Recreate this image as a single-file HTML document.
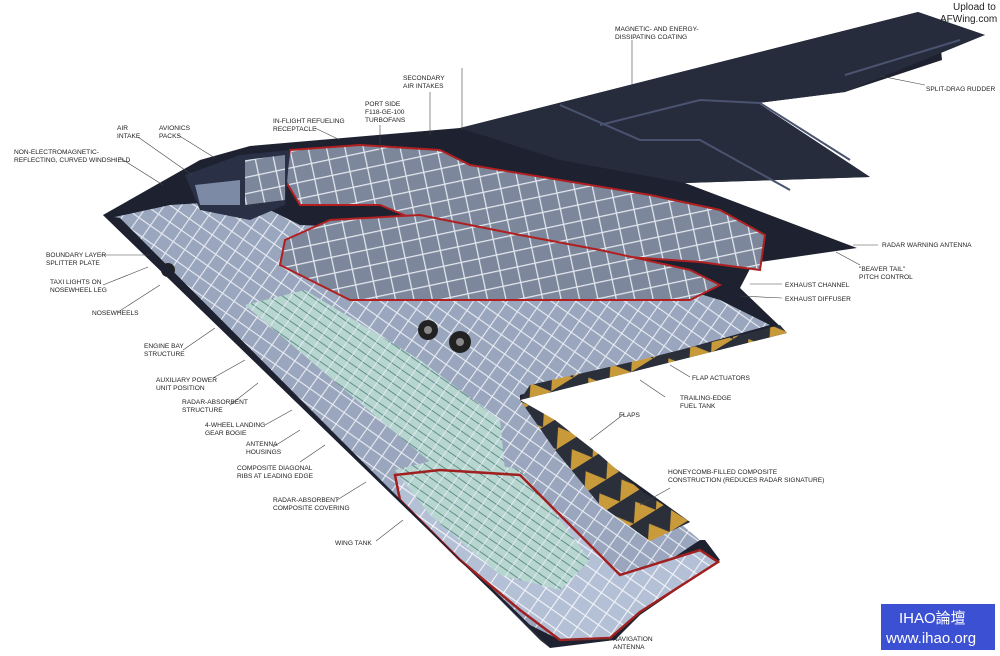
<!DOCTYPE html>
<html><head><meta charset="utf-8"><style>
html,body{margin:0;padding:0;background:#fff;}
svg{display:block}
text{font-family:"Liberation Sans",sans-serif;font-size:6.6px;fill:#222;}
.ln{stroke:#444;stroke-width:0.6;fill:none}
</style></head><body>
<svg width="1000" height="656" viewBox="0 0 1000 656" xmlns="http://www.w3.org/2000/svg">
<defs>
<pattern id="grid" width="14" height="14" patternUnits="userSpaceOnUse" patternTransform="rotate(35)">
<rect width="14" height="14" fill="#9aa6be"/><path d="M0 0H14M0 0V14" stroke="#e8ecf2" stroke-width="2.2"/>
</pattern>
<pattern id="grid2" width="18" height="16" patternUnits="userSpaceOnUse" patternTransform="rotate(-12)">
<rect width="18" height="16" fill="#7c879c"/><path d="M0 0H18M0 0V16" stroke="#e4e8ee" stroke-width="2.5"/>
</pattern>
<pattern id="grid3" width="16" height="14" patternUnits="userSpaceOnUse" patternTransform="rotate(35)">
<rect width="16" height="14" fill="#b4c0d6"/><path d="M0 0H16M0 0V14" stroke="#f2f4f8" stroke-width="2.2"/>
</pattern>
<pattern id="teal" width="12" height="8" patternUnits="userSpaceOnUse" patternTransform="rotate(35)">
<rect width="12" height="8" fill="#b8d6d0"/><path d="M0 0H12" stroke="#5f8f88" stroke-width="2"/><path d="M0 0V8" stroke="#eef" stroke-width="1.5"/>
</pattern>
<pattern id="honey" width="26" height="26" patternUnits="userSpaceOnUse" patternTransform="rotate(-32)">
<rect width="26" height="26" fill="#2a2f3a"/><path d="M0 26L13 8L26 26Z" fill="#c99a3a"/>
</pattern>
</defs>
<polygon points="103,215 200,160 250,146 460,128 918,12 985,35 940,40 942,60 845,92 758,103 870,177 685,183 857,248 753,263 740,288 787,333 520,400 690,522 650,541 705,540 720,560 640,615 615,640 550,648 103,215" fill="#1d2130"/>
<polygon points="460,128 918,12 985,35 845,92 758,103 870,177 685,183 560,160" fill="#272c3c"/>
<path d="M560,105 L640,140 L700,140 L790,190 M760,103 L850,160 M845,75 L960,40 M600,125 L700,100 L760,103" stroke="#4a5370" stroke-width="2" fill="none"/>
<polygon points="110,218 170,205 250,200 300,225 420,230 520,255 620,270 720,300 770,325 520,395 520,400 640,490 700,540 640,580 600,620 560,640 530,625 110,218" fill="url(#grid)"/>
<polygon points="520,475 560,515 600,555 620,575 700,550 718,562 640,612 610,638 560,640 520,610 460,560 400,500 395,475 440,470" fill="url(#grid3)"/>
<polygon points="290,150 360,145 440,150 470,165 560,180 650,195 720,210 765,235 760,270 700,262 600,255 520,245 440,230 380,205 300,205 285,180" fill="url(#grid2)" stroke="#b02020" stroke-width="2"/>
<polygon points="185,175 240,155 290,150 285,205 250,220 200,210" fill="#2a3146"/>
<polygon points="195,185 240,180 240,205 200,205" fill="#7d8aa6"/>
<polygon points="245,160 285,155 285,200 245,205" fill="url(#grid2)"/>
<polygon points="285,240 330,220 420,215 520,235 600,250 690,270 720,285 690,300 560,300 460,300 350,300 280,265" fill="url(#grid2)" stroke="#b02020" stroke-width="2"/>
<polygon points="245,305 305,290 420,360 500,420 505,470 440,470 380,420" fill="url(#teal)"/>
<polygon points="395,470 455,455 520,470 560,520 590,560 560,590 500,575 430,515" fill="url(#teal)"/>
<polygon points="395,475 440,470 520,475 560,515 600,555 620,575 700,550 718,562 640,612 610,638 560,640 520,610 460,560 400,500" fill="none" stroke="#a02020" stroke-width="2.5"/>
<polygon points="520,400 787,333 780,325 640,360 530,385" fill="url(#honey)"/>
<polygon points="520,400 555,420 600,455 640,490 690,522 650,541 600,505 555,450" fill="url(#honey)"/>
<polygon points="585,460 690,522 650,541 600,500" fill="url(#honey)"/>
<circle cx="428" cy="330" r="10" fill="#222"/><circle cx="460" cy="342" r="11" fill="#222"/>
<circle cx="428" cy="330" r="4" fill="#888"/><circle cx="460" cy="342" r="4" fill="#888"/>
<circle cx="168" cy="270" r="7" fill="#222"/>
<polygon points="103,215 120,218 540,640 550,648" fill="#1d2130"/>

<g class="ln">
<path d="M138,137 L192,175"/><path d="M178,135 L215,158"/><path d="M120,158 L163,185"/>
<path d="M315,128 L340,140"/><path d="M380,125 L380,150"/><path d="M430,92 L430,135"/><path d="M462,68 L462,130"/>
<path d="M632,40 L632,85"/><path d="M880,76 L925,85"/>
<path d="M100,255 L150,255"/><path d="M103,285 L148,267"/><path d="M118,312 L160,285"/>
<path d="M183,350 L215,328"/><path d="M213,378 L245,360"/><path d="M230,405 L258,383"/>
<path d="M265,425 L292,410"/><path d="M273,447 L300,430"/><path d="M300,462 L325,445"/>
<path d="M337,500 L366,482"/><path d="M376,541 L403,520"/>
<path d="M853,245 L878,245"/><path d="M860,265 L836,252"/><path d="M782,284 L750,284"/><path d="M782,298 L740,296"/>
<path d="M690,377 L670,365"/><path d="M665,397 L640,380"/><path d="M624,414 L590,440"/>
<path d="M670,488 L640,505"/><path d="M612,639 L570,640"/>
</g>
<text x="117" y="130">AIR</text><text x="117" y="138">INTAKE</text>
<text x="159" y="130">AVIONICS</text><text x="159" y="138">PACKS</text>
<text x="14" y="154">NON-ELECTROMAGNETIC-</text><text x="14" y="162">REFLECTING, CURVED WINDSHIELD</text>
<text x="273" y="123">IN-FLIGHT REFUELING</text><text x="273" y="131">RECEPTACLE</text>
<text x="365" y="106">PORT SIDE</text><text x="365" y="114">F118-GE-100</text><text x="365" y="122">TURBOFANS</text>
<text x="403" y="80">SECONDARY</text><text x="403" y="88">AIR INTAKES</text>
<text x="615" y="31">MAGNETIC- AND ENERGY-</text><text x="615" y="39">DISSIPATING COATING</text>
<text x="926" y="91">SPLIT-DRAG RUDDER</text>
<text x="46" y="257">BOUNDARY LAYER</text><text x="46" y="265">SPLITTER PLATE</text>
<text x="50" y="284">TAXI LIGHTS ON</text><text x="50" y="292">NOSEWHEEL LEG</text>
<text x="92" y="315">NOSEWHEELS</text>
<text x="144" y="348">ENGINE BAY</text><text x="144" y="356">STRUCTURE</text>
<text x="156" y="382">AUXILIARY POWER</text><text x="156" y="390">UNIT POSITION</text>
<text x="182" y="404">RADAR-ABSORBENT</text><text x="182" y="412">STRUCTURE</text>
<text x="205" y="427">4-WHEEL LANDING</text><text x="205" y="435">GEAR BOGIE</text>
<text x="246" y="446">ANTENNA</text><text x="246" y="454">HOUSINGS</text>
<text x="237" y="470">COMPOSITE DIAGONAL</text><text x="237" y="478">RIBS AT LEADING EDGE</text>
<text x="273" y="502">RADAR-ABSORBENT</text><text x="273" y="510">COMPOSITE COVERING</text>
<text x="335" y="545">WING TANK</text>
<text x="882" y="247">RADAR WARNING ANTENNA</text>
<text x="859" y="271">"BEAVER TAIL"</text><text x="859" y="279">PITCH CONTROL</text>
<text x="785" y="287">EXHAUST CHANNEL</text><text x="785" y="301">EXHAUST DIFFUSER</text>
<text x="692" y="380">FLAP ACTUATORS</text>
<text x="680" y="400">TRAILING-EDGE</text><text x="680" y="408">FUEL TANK</text>
<text x="619" y="417">FLAPS</text>
<text x="668" y="474">HONEYCOMB-FILLED COMPOSITE</text><text x="668" y="482">CONSTRUCTION (REDUCES RADAR SIGNATURE)</text>
<text x="613" y="641">NAVIGATION</text><text x="613" y="649">ANTENNA</text>
<text x="953" y="10" style="font-size:10px">Upload to</text>
<text x="940" y="22" style="font-size:10px">AFWing.com</text>
<rect x="881" y="604" width="114" height="46" fill="#3b50d2"/>
<text x="899" y="623" style="font-size:15px;fill:#fff;font-family:'Liberation Sans','Noto Sans CJK TC',sans-serif">IHAO論壇</text>
<text x="886" y="643" style="font-size:15px;fill:#fff">www.ihao.org</text>
</svg>
</body></html>
